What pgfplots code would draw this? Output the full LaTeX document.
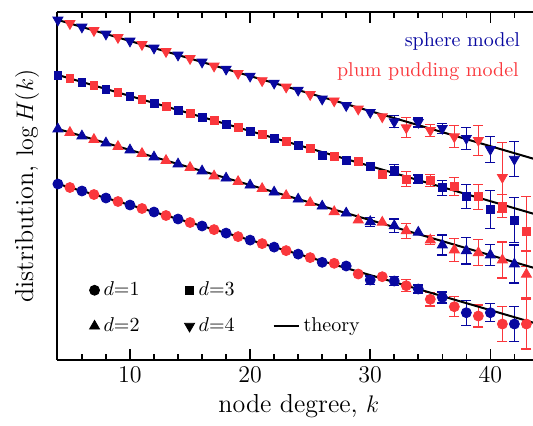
\documentclass[border=0pt]{standalone}
\usepackage{pgfplots}
\pgfplotsset{compat=1.18}
\definecolor{cblue}{RGB}{8,8,160}
\definecolor{cred}{RGB}{250,55,60}
\pgfplotsset{
  base/.style={only marks, forget plot},
  dA/.style={mark=*, mark size=2.5pt},
  dB/.style={mark=triangle*, mark size=2.9pt},
  dC/.style={mark=square*, mark size=1.95pt},
  dD/.style={mark=triangle*, mark size=2.9pt, mark options={rotate=180}},
  eb/.style={error bars/.cd, y dir=both, y explicit, error mark=-,
     error mark options={rotate=90, mark size=2.5pt, line width=0.7pt},
     error bar style={line width=0.7pt}},
  th/.style={black, line width=1pt, no marks, forget plot},
  legmark/.style={legend image code/.code={\draw[##1] plot coordinates {(0pt,0pt)};}},
  legline/.style={legend image code/.code={\draw[##1] (0pt,0pt) -- (12.5pt,0pt);}},
}
\begin{document}
\begin{tikzpicture}
\begin{axis}[
  name=ax,
  scale only axis, width=238.15pt, height=173.85pt,
  xmin=3.9, xmax=43.55, ymin=0, ymax=347.7,
  axis x line*=box, axis y line*=left,
  axis line style={line width=1pt},
  xtick={10,20,30,40},
  minor xtick={6,8,12,14,16,18,22,24,26,28,32,34,36,38,42},
  ytick=\empty,
  major tick length=5.5pt, minor tick length=3pt,
  every tick/.style={black, line width=0.8pt},
  tick label style={font=\fontsize{12}{14}\selectfont},
  xlabel={node degree, $k$}, ylabel={distribution, $\log H(k)$},
  label style={font=\fontsize{13}{15}\selectfont},
  xlabel style={at={(axis description cs:0.5,0)}, anchor=base, yshift=-26.35pt, xshift=2pt},
  ylabel style={at={(axis description cs:-0.0496,0.5)}, anchor=base},
  clip=true,
  legend columns=3,
  legend cell align=left,
  legend style={draw=none, fill=none, at={(0.0555,0.249)}, anchor=north west,
     font=\normalsize, row sep=5.5pt,
     /tikz/column 2/.style={column sep=20.5pt},
     /tikz/column 4/.style={column sep=17pt}},
]
% ---------------- d = 4 ----------------
\addplot[base, dD, cblue] coordinates {
(4,340.0)(6,333.0)(8,326.0)(10,319.0)(12,312.0)(14,305.0)(16,298.0)(18,290.9)
(20,283.9)(22,276.9)(24,269.9)(26,261.0)(28,254.5)(30,247.7)};
\addplot[base, dD, cred] coordinates {
(5,336.5)(7,329.5)(9,322.5)(11,315.5)(13,308.5)(15,301.5)(17,294.0)(19,286.7)
(21,279.4)(23,273.0)(25,265.5)(27,259.2)(29,251.0)(31,243.3)};
\addplot[base, dD, cblue, eb] coordinates {
(32,238.3) +- (0,6) (34,237.7) +- (0,4.5) (36,231.7) +- (0,5) (38,221.7) +- (0,11)
(40,210.7) +- (0,13) (42,200.8) +- (0,17.5)};
\addplot[base, dD, cred, eb] coordinates {
(33,232.3) +- (0,10) (35,229.7) +- (0,6) (37,223.3) +- (0,11) (39,219.7) +- (0,15)
(41,182.7) +- (0,34.6)};
% ---------------- d = 3 ----------------
\addplot[base, dC, cblue] coordinates {
(4,285.0)(6,278.0)(8,271.0)(10,264.0)(12,257.0)(14,250.0)(16,243.0)(18,235.9)
(20,228.9)(22,221.9)(24,214.9)(26,205.0)(28,200.0)(30,193.3)};
\addplot[base, dC, cred] coordinates {
(5,281.5)(7,274.5)(9,267.5)(11,260.5)(13,253.5)(15,246.5)(17,239.4)(19,232.4)
(21,225.4)(23,218.4)(25,211.4)(27,204.0)(29,198.3)(31,186.0)};
\addplot[base, dC, cblue, eb] coordinates {
(32,190.0) +- (0,5.3) (34,181.0) +- (0,4) (36,172.3) +- (0,7.5) (38,163.3) +- (0,12)
(40,150.7) +- (0,19) (42,140.0) +- (0,22.7)};
\addplot[base, dC, cred, eb] coordinates {
(33,181.0) +- (0,7.5) (35,179.3) +- (0,6) (37,173.3) +- (0,9) (39,163.3) +- (0,12.5)
(41,154.0) +- (0,11.3) (43,128.3) +- (0,35)};
% ---------------- d = 2 ----------------
\addplot[base, dB, cblue] coordinates {
(4,231.0)(6,224.0)(8,217.0)(10,210.0)(12,203.0)(14,196.0)(16,189.0)(18,181.9)
(20,174.9)(22,167.9)(24,160.9)(26,153.9)(28,146.9)(34,127.7)};
\addplot[base, dB, cred] coordinates {
(5,227.5)(7,220.5)(9,213.5)(11,206.5)(13,199.5)(15,192.5)(17,184.0)(19,178.4)
(21,171.4)(23,164.4)(25,157.4)(27,148.3)(29,140.0)(31,137.7)};
\addplot[base, dB, cblue, eb] coordinates {
(30,138.3) +- (0,4.5) (32,134.3) +- (0,6.7) (36,115.0) +- (0,10) (38,109.3) +- (0,13.3)
(40,105.0) +- (0,10.5) (42,96.0) +- (0,19)};
\addplot[base, dB, cred, eb] coordinates {
(33,129.3) +- (0,7.5) (35,120.0) +- (0,4.5) (37,110.0) +- (0,11.7) (39,107.3) +- (0,13)
(41,100.0) +- (0,18) (43,85.7) +- (0,23.5)};
% ---------------- d = 1 ----------------
\addplot[base, dA, cblue] coordinates {
(4,176.0)(6,169.0)(8,162.0)(10,155.0)(12,148.0)(14,141.0)(16,134.0)(18,126.9)
(20,119.9)(22,112.9)(24,105.9)(26,97.7)(28,94.0)};
\addplot[base, dA, cred] coordinates {
(5,172.5)(7,165.5)(9,158.5)(11,151.5)(13,144.5)(15,137.5)(17,130.4)(19,123.4)
(21,116.4)(23,109.4)(25,102.4)(27,96.7)(29,86.0)(31,83.3)};
\addplot[base, dA, cblue, eb] coordinates {
(30,80.0) +- (0,4.2) (32,79.0) +- (0,4.5) (34,71.0) +- (0,4) (36,62.7) +- (0,5.5)
(38,47.3) +- (0,12.5) (40,47.3) +- (0,9) (42,36.0) +- (0,17.5)};
\addplot[base, dA, cred, eb] coordinates {
(33,74.3) +- (0,6) (35,60.7) +- (0,6.7) (37,53.3) +- (0,10) (39,44.0) +- (0,11)
(41,36.0) +- (0,17.5) (43,36.0) +- (0,25)};
% ---------------- theory ----------------
\addplot[th] coordinates {(3.9,340.4) (43.55,201.4)};
\addplot[th] coordinates {(3.9,285.4) (43.55,146.4)};
\addplot[th] coordinates {(3.9,231.4) (43.55,92.4)};
\addplot[th] coordinates {(3.9,176.4) (43.55,37.4)};
% ---------------- labels ----------------
\node[anchor=base east, inner sep=0pt, text=cblue] at (axis cs:42.5,313.3) {sphere model};
\node[anchor=base east, inner sep=0pt, text=cred] at (axis cs:42.4,284.0) {plum pudding model};
% ---------------- legend ----------------
\addlegendimage{legmark, only marks, mark=*, mark size=2.5pt, black}
\addlegendentry{$d{=}1$}
\addlegendimage{legmark, only marks, mark=square*, mark size=1.95pt, black}
\addlegendentry{$d{=}3$}
\addlegendimage{empty legend}
\addlegendentry{}
\addlegendimage{legmark, only marks, mark=triangle*, mark size=2.9pt, black}
\addlegendentry{$d{=}2$}
\addlegendimage{legmark, only marks, mark=triangle*, mark size=2.9pt, black, mark options={rotate=180}}
\addlegendentry{$d{=}4$}
\addlegendimage{legline, black, line width=1pt}
\addlegendentry{theory}
\end{axis}
\pgfresetboundingbox
\path[use as bounding box] ([xshift=-28.35pt,yshift=-32.5pt]ax.south west) rectangle ([yshift=6.15pt]ax.north east);
\end{tikzpicture}
\end{document}
